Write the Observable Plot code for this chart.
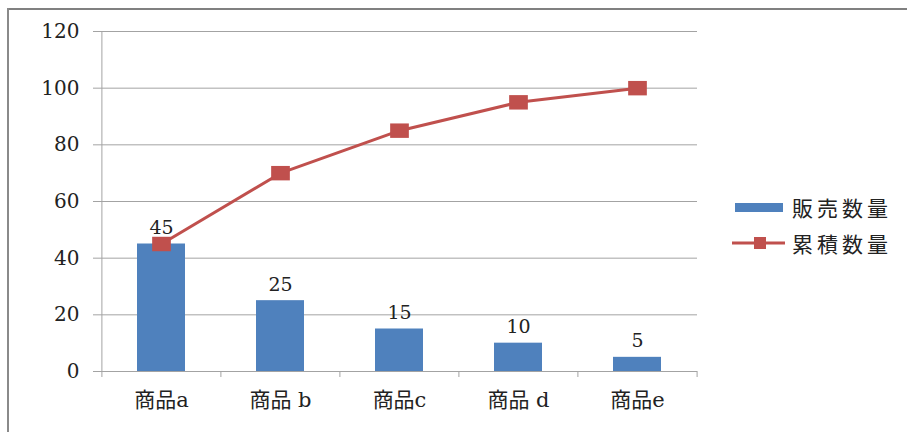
<!DOCTYPE html>
<html>
<head>
<meta charset="utf-8">
<script src="https://cdn.jsdelivr.net/npm/d3@7"></script>
<script src="https://cdn.jsdelivr.net/npm/@observablehq/plot@0.6"></script>
<style>
  html, body { margin: 0; padding: 0; background: #fff; }
  #wrap { position: relative; width: 907px; height: 432px; overflow: hidden; background: #fff; }
  #frameTop { position: absolute; left: 7px; top: 8px; width: 900px; height: 2px; background: #808080; }
  #frameLeft { position: absolute; left: 7px; top: 8px; width: 2px; height: 424px; background: #8a8a8a; }
  #chart { position: absolute; left: 0; top: 0; }
  .legend { position: absolute; left: 730px; font-family: "Noto Sans CJK JP", sans-serif; font-size: 21px; letter-spacing: 4px; color: #222; display: flex; align-items: center; height: 26px; }
  .legend svg { margin-right: 4px; }
</style>
</head>
<body>
<div id="wrap">
  <div id="chart"></div>
  <div id="frameTop"></div>
  <div id="frameLeft"></div>
  <div class="legend" style="top:194px"><svg width="58" height="24"><rect x="5" y="8" width="48" height="9" fill="#4F81BD"/></svg><span id="lg1"></span></div>
  <div class="legend" style="top:230px"><svg width="58" height="24"><line x1="2" x2="55" y1="12" y2="12" stroke="#C0504D" stroke-width="3"/><rect x="24" y="6" width="12" height="12" fill="#C0504D"/></svg><span id="lg2"></span></div>
</div>
<script>
const categories = ["商品a", "商品 b", "商品c", "商品 d", "商品e"];
const sales = [45, 25, 15, 10, 5];
const cumulative = [45, 70, 85, 95, 100];
const yTicks = [0, 20, 40, 60, 80, 100, 120];
const seriesNames = ["販売数量", "累積数量"];

document.getElementById("lg1").textContent = seriesNames[0];
document.getElementById("lg2").textContent = seriesNames[1];

const data = categories.map((c, i) => ({cat: c, sales: sales[i], cum: cumulative[i]}));

const W = 907, H = 432, mL = 101, mR = 210, mT = 31, mB = 61;
const step = (W - mL - mR) / categories.length;
const gray = "#a3a3a3";
const serif = "DejaVu Serif, Noto Sans CJK JP, serif";

const rectSym = {
  draw(ctx, size) {
    const s = Math.sqrt(size / Math.PI);
    ctx.rect(-s * 1.1, -s * 0.85, s * 2.2, s * 1.7);
  }
};

const chart = Plot.plot({
  width: W, height: H,
  marginLeft: mL, marginRight: mR, marginTop: mT, marginBottom: mB,
  style: {fontFamily: serif, color: "#222", background: "transparent"},
  x: {type: "band", domain: categories, paddingInner: 0.6, paddingOuter: 0.3, label: null},
  y: {domain: [0, 120], label: null},
  marks: [
    Plot.gridY(yTicks, {stroke: gray, strokeOpacity: 1}),
    Plot.axisY(yTicks, {tickSize: 8, tickPadding: 14, stroke: gray, fontSize: 20, letterSpacing: 2, fill: "#222", label: null}),
    Plot.ruleX([categories[0]], {dx: -step / 2, stroke: gray}),
    Plot.ruleY([0], {stroke: gray}),
    Plot.ruleX(categories, {dx: -step / 2, y1: 0, y2: 0, insetBottom: -6, stroke: gray}),
    Plot.ruleX([categories[categories.length - 1]], {dx: step / 2, y1: 0, y2: 0, insetBottom: -6, stroke: gray}),
    Plot.axisX({tickSize: 0, tickPadding: 21, fontSize: 21, letterSpacing: 3, fill: "#222", fontFamily: serif, label: null}),
    Plot.barY(data, {x: "cat", y: "sales", fill: "#4F81BD"}),
    Plot.text(data, {x: "cat", y: "sales", text: d => String(d.sales), lineAnchor: "bottom", dy: -10, fontSize: 19, letterSpacing: 1, fill: "#222", fontFamily: serif}),
    Plot.line(data, {x: "cat", y: "cum", stroke: "#C0504D", strokeWidth: 3}),
    Plot.dot(data, {x: "cat", y: "cum", symbol: rectSym, r: 8.5, fill: "#C0504D", stroke: "none"})
  ]
});
document.getElementById("chart").appendChild(chart);
</script>
</body>
</html>
